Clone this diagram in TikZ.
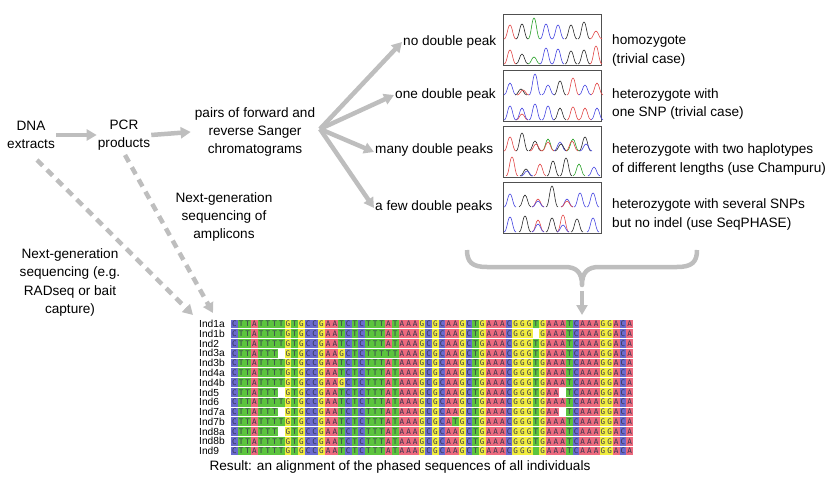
\documentclass[tikz,border=0pt]{standalone}
\usepackage{fontspec}
\setmainfont{Liberation Sans}
\newfontfamily\alnmono{DejaVu Sans Mono}
\usetikzlibrary{arrows.meta}
\definecolor{arrowgray}{RGB}{190,190,190}
\definecolor{colA}{RGB}{236,106,126}
\definecolor{colC}{RGB}{106,106,206}
\definecolor{colG}{RGB}{240,236,62}
\definecolor{colT}{RGB}{92,196,62}
\definecolor{alnletter}{RGB}{55,55,80}
\definecolor{cr}{RGB}{225,70,70}
\definecolor{cb}{RGB}{70,70,225}
\definecolor{cg}{RGB}{40,160,40}
\definecolor{ck}{RGB}{40,40,40}
\definecolor{boxgray}{RGB}{80,80,80}
\newcount\alnc
\newcount\alnr
\def\alncell#1{%
  \pgfmathsetmacro\cx{231+6.7*\the\alnc}%
  \pgfmathsetmacro\cy{324+9.77*\the\alnr}%
  \ifx#1.\relax\else
    \ifx#1X\relax
      \fill[colT] (\cx,\cy-4.4) rectangle +(6.7,8.8);%
    \else
      \fill[col#1] (\cx,\cy-4.4) rectangle +(6.7,8.8);%
      \node[alnchar] (c\the\alnr-\the\alnc) at (\cx+3.35,\cy) {#1};%
    \fi
  \fi
  \advance\alnc by 1 }
\def\alnparse#1{\ifx#1\relax\else\alncell#1\expandafter\alnparse\fi}
\newcommand\alnrow[1]{\alnc=0 \alnparse#1\relax\advance\alnr by 1 }
\newcommand\pk[4]{\draw[#1, line width=0.6pt] ({#2-6},#3) .. controls ({#2-3},#3) and ({#2-2.3},{#3-#4}) .. (#2,{#3-#4}) .. controls ({#2+2.3},{#3-#4}) and ({#2+3},#3) .. ({#2+6},#3);}
\tikzset{
  lbl/.style={font=\fontsize{13.6}{18.3}\selectfont, align=center, inner sep=1pt},
  lbll/.style={lbl, align=left, anchor=west},
  flow/.style={draw=arrowgray, line width=4.5pt, -{Triangle[length=10pt,width=11pt]}},
  dflow/.style={flow, dash pattern=on 8pt off 6pt},
  brace/.style={draw=arrowgray, line width=4.5pt, line join=round},
  chrombox/.style={draw=boxgray, line width=0.8pt, minimum width=98pt, minimum height=51pt, inner sep=0pt, anchor=north west},
  alnchar/.style={font=\alnmono\fontsize{7.6}{7.6}\selectfont, text=alnletter, inner sep=0pt},
  indlbl/.style={font=\fontsize{10.2}{10.2}\selectfont, inner sep=0pt, anchor=west}
}
\begin{document}
\begin{tikzpicture}[x=1pt,y=-1pt]
\useasboundingbox (0,0) rectangle (830,489);
% left flow
\node[lbl] (dna) at (31,135) {DNA\\extracts};
\node[lbl] (pcr) at (124,135) {PCR\\products};
\node[lbl] (pairs) at (255,132) {pairs of forward and\\reverse Sanger\\chromatograms};
\draw[flow] (dna.east) -- (pcr.west);
\draw[flow] (pcr.east) -- ([xshift=-3pt]pairs.west);
% fan
\coordinate (fan) at (320,129);
\node[lbll] (nodp) at (402,42) {no double peak};
\node[lbll] (onedp) at (394,95) {one double peak};
\node[lbll] (manydp) at (374,150) {many double peaks};
\node[lbll] (fewdp) at (374,207) {a few double peaks};
\draw[flow] (fan) -- (nodp.west);
\draw[flow] (fan) -- (onedp.west);
\draw[flow] (fan) -- ([yshift=-2pt]manydp.west);
\draw[flow] (fan) -- ([yshift=-1pt]fewdp.west);
% chromatogram boxes
\node[chrombox] (ch1) at (503,14) {};
\node[chrombox] (ch2) at (503,70) {};
\node[chrombox] (ch3) at (503,126) {};
\node[chrombox] (ch4) at (503,182) {};
% box 1
\foreach \c/\x/\h in {cr/510/14, ck/522/15, cg/534/21, cb/546/15, cb/558/14, ck/571/14, ck/584/17, cr/596/8} {\pk{\c}{\x}{39}{\h}}
\foreach \c/\x/\h in {cr/510/14, ck/522/10, cg/534/7, cb/546/16, cb/558/15, ck/571/13, ck/584/14, cr/596/18} {\pk{\c}{\x}{64}{\h}}
% box 2
\foreach \c/\x/\h in {cb/510/12, ck/521/6, cr/523/5, cb/535/21, cb/548/10, ck/560/14, cr/573/17, cb/585/10, cr/597/12} {\pk{\c}{\x}{95}{\h}}
\foreach \c/\x/\h in {cb/510/14, cr/522/6, cb/522/12, cb/535/16, cb/548/14, ck/560/12, cr/573/13, cr/585/12, cb/597/12} {\pk{\c}{\x}{120}{\h}}
% box 3
\foreach \c/\x/\h in {cr/510/14, ck/522/18, ck/535/10, cr/536/7, cg/548/12, cr/548/9, cb/560/9, ck/561/7, cg/573/12, cr/572/10, ck/585/14, cb/586/7} {\pk{\c}{\x}{151}{\h}}
\foreach \c/\x/\h in {cr/512/19, ck/526/7, cb/527/5, cr/540/12, ck/553/15, ck/566/18, cg/579/12, cb/594/9} {\pk{\c}{\x}{176}{\h}}
% box 4
\foreach \c/\x/\h in {cb/510/13, ck/525/12, cr/538/8, cb/538/6, ck/552/21, cb/567/8, cr/567/6, cb/580/14, cb/593/14} {\pk{\c}{\x}{207}{\h}}
\foreach \c/\x/\h in {cb/510/15, ck/525/16, cr/538/12, cb/538/8, ck/552/14, cr/563/17, cb/563/7, ck/577/13, cb/593/14} {\pk{\c}{\x}{232}{\h}}
% right labels
\node[lbll] (homo) at (611,50.5) {homozygote\\(trivial case)};
\node[lbll] (hetone) at (611,104) {heterozygote with\\one SNP (trivial case)};
\node[lbll] (hettwo) at (611,159.5) {heterozygote with two haplotypes\\of different lengths (use Champuru)};
\node[lbll] (hetsev) at (611,214.5) {heterozygote with several SNPs\\but no indel (use SeqPHASE)};
% brace
\draw[brace] (467,250) .. controls (467,262) and (472,267) .. (487,267) -- (565,267) .. controls (576,267) and (582,272) .. (582,285) .. controls (582,272) and (588,267) .. (599,267) -- (677,267) .. controls (692,267) and (697,262) .. (697,250);
\coordinate (bracetip) at (582,291);
\coordinate (alntop) at (582,315);
\draw[flow] (bracetip) -- (alntop);
% NGS labels and dashed arrows
\node[lbl] (ngsamp) at (224,217) {Next-generation\\sequencing of\\amplicons};
\node[lbl] (ngsrad) at (70,282.5) {Next-generation\\sequencing (e.g.\\RADseq or bait\\capture)};
\coordinate (dnaout) at (37,160);
\coordinate (pcrout) at (125,155);
\coordinate (radin) at (193,315);
\coordinate (ampin) at (213,313);
\draw[dflow] (dnaout) -- (radin);
\draw[dflow] (pcrout) -- (ampin);
% alignment labels
\foreach \n [count=\i from 0] in {Ind1a,Ind1b,Ind2,Ind3a,Ind3b,Ind4a,Ind4b,Ind5,Ind6,Ind7a,Ind7b,Ind8a,Ind8b,Ind9}
  {\node[indlbl] (lab\i) at (199,{324+9.77*\i}) {\n};}
% alignment
\alnr=0
\alnrow{CTTATTTTGTGCCGAATCTCTTTATAAAGCGCAAGCTGAAACGGGTGAAATCAAAGGACA}
\alnrow{CTTATTTTGTGCCGAATCTCTTTATAAAGCGCAAGCTGAAACGGG.GAAATCAAAGGACA}
\alnrow{CTTATTTTGTGCCGAATCTCTTTATAAAGCGCAAGCTGAAACGGGTGAAATCAAAGGACA}
\alnrow{CTTATTT.GTGCCGAAGCTCTTTTTAAAGCGCAAGCTGAAACGGGTGAAATCAAAGGACA}
\alnrow{CTTATTTTGTGCCGAATCTCTTTATAAAGCGCAAGCTGAAACGGGTGAAATCAAAGGACA}
\alnrow{CTTATTTTGTGCCGAATCTCTTTATAAAGCGCAAGCTGAAACGGGTGAAATCAAAGGACA}
\alnrow{CTTATTTTGTGCCGAAGCTCTTTATAAAGCGCAAGCTGAAACGGGTGAAATCAAAGGACA}
\alnrow{CTTATTT.GTGCCGAATCTCTTTATAAAGCGCAAGCTGAAACGGGTGAA.TCAAAGGACA}
\alnrow{CTTATTTTGTGCCGAATCTCTTTATAAAGCGCAAGCTGAAACGGGTGAAATCAAAGGACA}
\alnrow{CTTATTT.GTGCCGAATCTCTTTATAAAGCGCAAGCTGAAACGGGTGAA.TCAAAGGACA}
\alnrow{CTTATTTTGTGCCGAATCTCTTTATAAAGCGCATGCTGAAACGGGTGAAATCAAAGGACA}
\alnrow{CTTATTT.GTGCCGAATCTCTTTATAAAGCGCAAGCTGAAACGGGTGAAATCAAAGGACA}
\alnrow{CTTATTTTGTGCCGAATCTCTTTATAAAGCGCAAGCTGAAACGGGTGAAATCAAAGGACA}
\alnrow{CTTATTTTGTGCCGAATCTCTTTATAAAGCGCAAGCTGAAACGGGXGAAATCAAAGGACA}
% result
\node[lbl] (result) at (400,467) {Result: an alignment of the phased sequences of all individuals};
\end{tikzpicture}
\end{document}
